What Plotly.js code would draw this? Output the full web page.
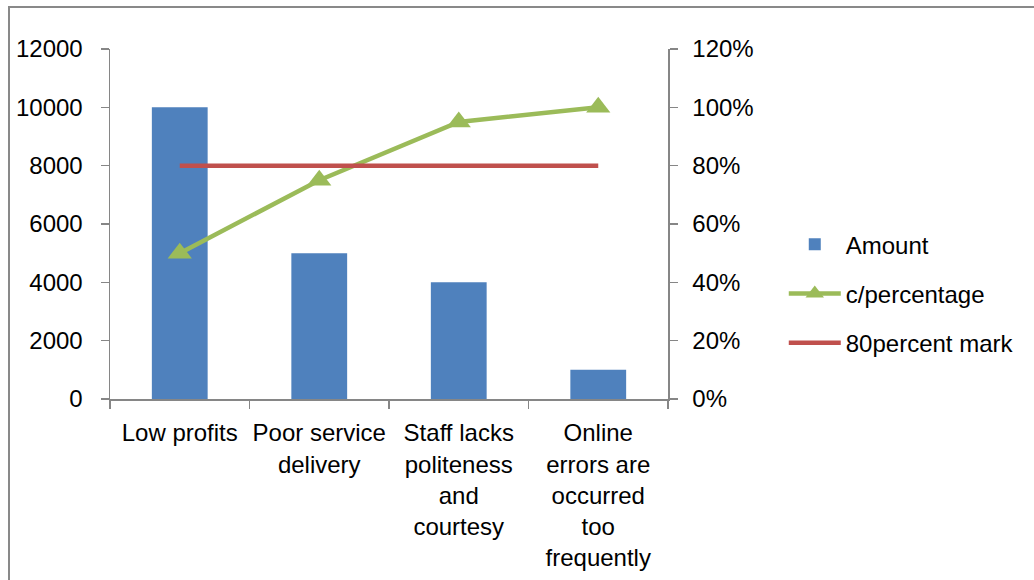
<!DOCTYPE html>
<html>
<head>
<meta charset="utf-8">
<script src="https://cdn.plot.ly/plotly-3.0.1.min.js"></script>
<style>
  html, body { margin: 0; padding: 0; overflow: hidden; background: #fff; }
  #wrap { position: relative; width: 1034px; height: 580px; overflow: hidden; }
  #chart { position: absolute; left: 0; top: 0; width: 1034px; height: 580px; }
  #frame { position: absolute; left: 8px; top: 6px; width: 1100px; height: 650px;
           border: 2px solid #898989; pointer-events: none; box-sizing: border-box; }
</style>
</head>
<body>
<div id="wrap">
  <div id="chart"></div>
  <div id="frame"></div>
</div>
<script>
const categories = [
  "Low profits",
  "Poor service<br>delivery",
  "Staff lacks<br>politeness<br>and<br>courtesy",
  "Online<br>errors are<br>occurred<br>too<br>frequently"
];
const amount = [10000, 5000, 4000, 1000];
const cumPercentage = [0.50, 0.75, 0.95, 1.00];
const eightyMark = [0.80, 0.80, 0.80, 0.80];
const leftTicks = [0, 2000, 4000, 6000, 8000, 10000, 12000];
const rightTicks = [0, 0.2, 0.4, 0.6, 0.8, 1.0, 1.2];

const FONT = "Liberation Sans, Arial, sans-serif";
const FS = 24;
const AXIS = "#868686";

const traces = [
  {
    type: "bar", name: "Amount", x: categories, y: amount,
    marker: { color: "#4F81BD" }, legendgroup: "a"
  },
  {
    type: "scatter", mode: "lines+markers", name: "c/percentage",
    x: categories, y: cumPercentage, yaxis: "y2",
    line: { color: "#9BBB59", width: 4.5 },
    marker: { symbol: "triangle-up", size: 21, color: "#9BBB59" },
    legendgroup: "b"
  },
  {
    type: "scatter", mode: "lines", name: "80percent mark",
    x: categories, y: eightyMark, yaxis: "y2",
    line: { color: "#C0504D", width: 4.5 },
    legendgroup: "c"
  }
];

const layout = {
  width: 1034, height: 580,
  margin: { l: 110, r: 366, t: 49, b: 181 },
  paper_bgcolor: "rgba(0,0,0,0)",
  plot_bgcolor: "rgba(0,0,0,0)",
  font: { family: FONT, size: FS, color: "#000" },
  bargap: 0.6,
  showlegend: true,
  legend: {
    xref: "container", yref: "container",
    x: 0.758, y: 0.617, xanchor: "left", yanchor: "top",
    itemwidth: 52, tracegroupgap: 15, traceorder: "grouped",
    font: { family: FONT, size: FS, color: "#000" },
    bgcolor: "rgba(0,0,0,0)"
  },
  xaxis: {
    type: "category", range: [-0.5, 3.5],
    showline: true, linecolor: AXIS, linewidth: 1.5,
    ticks: "outside", tickson: "boundaries", ticklen: 8, tickcolor: AXIS, tickwidth: 1.5,
    showgrid: false, zeroline: false, ticklabelstandoff: 12, tickangle: 0,
    tickfont: { family: FONT, size: FS, color: "#000" },
    fixedrange: true
  },
  yaxis: {
    range: [0, 12000], tickvals: leftTicks, ticktext: leftTicks.map(String),
    showline: true, linecolor: AXIS, linewidth: 1.5,
    ticks: "outside", ticklen: 8, tickcolor: AXIS, tickwidth: 1.5,
    showgrid: false, zeroline: false, ticklabelstandoff: 13,
    tickfont: { family: FONT, size: FS, color: "#000" }
  },
  yaxis2: {
    overlaying: "y", side: "right", range: [0, 1.2],
    tickvals: rightTicks, ticktext: rightTicks.map(v => Math.round(v * 100) + "%"),
    showline: true, linecolor: AXIS, linewidth: 1.5,
    ticks: "outside", ticklen: 8, tickcolor: AXIS, tickwidth: 1.5,
    showgrid: false, zeroline: false, ticklabelstandoff: 10,
    tickfont: { family: FONT, size: FS, color: "#000" }
  }
};

Plotly.newPlot("chart", traces, layout, { staticPlot: true, displayModeBar: false });
</script>
</body>
</html>
